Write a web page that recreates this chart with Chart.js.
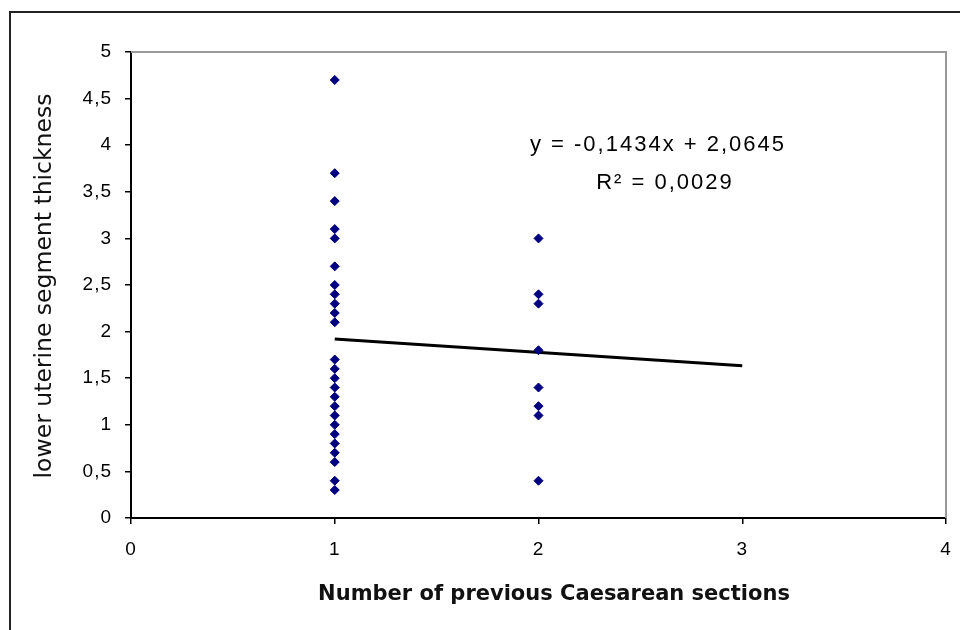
<!DOCTYPE html>
<html>
<head>
<meta charset="utf-8">
<script src="https://cdn.jsdelivr.net/npm/chart.js@4"></script>
<style>
  html, body { margin: 0; padding: 0; background: #fff; }
  #wrap { width: 960px; height: 630px; position: relative; }
</style>
</head>
<body>
<div id="wrap"><canvas id="scatterChart" width="960" height="630"></canvas></div>
<script>
// values
const groupOneX = 1;
const groupOneY = [4.7, 3.7, 3.4, 3.1, 3.0, 2.7, 2.5, 2.4, 2.3, 2.2, 2.1,
  1.7, 1.6, 1.5, 1.4, 1.3, 1.2, 1.1, 1.0, 0.9, 0.8, 0.7, 0.6, 0.4, 0.3];
const groupTwoX = 2;
const groupTwoY = [3.0, 2.4, 2.3, 1.8, 1.4, 1.2, 1.1, 0.4];

// trend line as printed on the chart
const trendSlope = -0.1434;
const trendIntercept = 2.0645;
const trendX = [1, 3];
const equationLines = ['y = -0,1434x + 2,0645', 'R\u00B2 = 0,0029'];

const xTicks = [0, 1, 2, 3, 4];
const yTicks = [0, 0.5, 1, 1.5, 2, 2.5, 3, 3.5, 4, 4.5, 5];
const xTitle = 'Number of previous Caesarean sections';
const yTitle = 'lower uterine segment thickness';

const points = groupOneY.map(y => ({ x: groupOneX, y: y }))
  .concat(groupTwoY.map(y => ({ x: groupTwoX, y: y })));
const trendPoints = trendX.map(x => ({ x: x, y: trendSlope * x + trendIntercept }));

const fmt = v => String(v).replace('.', ',');

// outer frame, plot-area top/right edges, axis titles and the equation label
const decorations = {
  id: 'decorations',
  beforeDraw(chart) {
    const c = chart.ctx;
    c.save();
    c.fillStyle = '#fff';
    c.fillRect(0, 0, chart.width, chart.height);
    c.strokeStyle = '#222';
    c.lineWidth = 2;
    c.strokeRect(10, 12, chart.width + 10, chart.height + 10);
    c.restore();
    // tick labels in the original are a bit loosely spaced
    c.letterSpacing = '1px';
  },
  afterDraw(chart) {
    const c = chart.ctx;
    const a = chart.chartArea;
    c.save();
    c.letterSpacing = '0px';
    c.strokeStyle = '#999';
    c.lineWidth = 2;
    c.beginPath();
    c.moveTo(a.left, a.top);
    c.lineTo(a.right, a.top);
    c.lineTo(a.right, a.bottom);
    c.stroke();

    c.fillStyle = '#111';
    c.textAlign = 'center';
    c.textBaseline = 'middle';
    c.font = 'bold 21px "DejaVu Sans", Verdana, sans-serif';
    c.fillText(xTitle, 554, 595);

    c.save();
    c.translate(45, 286);
    c.rotate(-Math.PI / 2);
    c.font = '23.5px "DejaVu Sans", Verdana, sans-serif';
    c.fillText(yTitle, 0, 0);
    c.restore();

    c.fillStyle = '#000';
    c.font = '22px "Liberation Sans", Arial, sans-serif';
    c.letterSpacing = '2px';
    c.fillText(equationLines[0], 658, 145);
    c.fillText(equationLines[1], 665, 183);
    c.restore();
  }
};

const ctx = document.getElementById('scatterChart').getContext('2d');

const scatterChart = new Chart(ctx, {
  type: 'scatter',
  data: {
    datasets: [
      {
        label: 'thickness',
        data: points,
        pointStyle: 'rectRot',
        pointRadius: 4.5,
        backgroundColor: '#00007f',
        borderColor: '#00007f',
        borderWidth: 1,
      },
      {
        type: 'line',
        label: 'trend',
        data: trendPoints,
        borderColor: '#000',
        borderWidth: 3,
        pointRadius: 0,
        fill: false,
      },
    ],
  },
  options: {
    responsive: false,
    animation: false,
    layout: { padding: { left: 10, top: 52, right: 14, bottom: 0 } },
    plugins: {
      legend: { display: false },
      tooltip: { enabled: false },
    },
    scales: {
      x: {
        type: 'linear',
        min: 0,
        max: 4,
        afterBuildTicks: s => { s.ticks = xTicks.map(v => ({ value: v })); },
        afterFit: s => { s.height = 112; s.paddingLeft = 0; s.paddingRight = 0; },
        ticks: {
          color: '#000',
          font: { family: '"Liberation Sans", Arial, sans-serif', size: 19 },
          padding: 14,
        },
        grid: { drawOnChartArea: false, drawTicks: true, tickLength: 6, color: '#000', lineWidth: 1.5 },
        border: { color: '#000', width: 2 },
      },
      y: {
        min: 0,
        max: 5,
        afterBuildTicks: s => { s.ticks = yTicks.map(v => ({ value: v })); },
        afterFit: s => { s.width = 121; s.paddingTop = 0; s.paddingBottom = 0; },
        ticks: {
          color: '#000',
          font: { family: '"Liberation Sans", Arial, sans-serif', size: 19 },
          padding: 13,
          callback: v => fmt(v),
        },
        grid: { drawOnChartArea: false, drawTicks: true, tickLength: 6, color: '#000', lineWidth: 1.5 },
        border: { color: '#000', width: 2 },
      },
    },
  },
  plugins: [decorations],
});
</script>
</body>
</html>
